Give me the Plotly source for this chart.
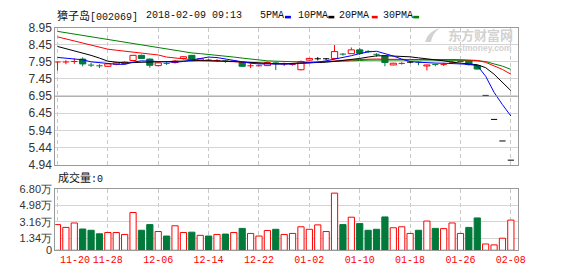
import plotly.graph_objects as go

# ---------------- data ----------------
tick_pos = [0, 6, 12, 18, 24, 30, 36, 42, 48, 54]
tick_labels = ["11-20", "11-28", "12-06", "12-14", "12-22", "01-02", "01-10", "01-18", "01-26", "02-08"]

price_ticks = ["8.95", "8.45", "7.95", "7.45", "6.95", "6.45", "5.94", "5.44", "4.94"]
vol_ticks = [0, 1.34, 3.16, 4.98, 6.80]
vol_tick_text = ["0", "1.34万", "3.16万", "4.98万", "6.80万"]

open_ = [7.94, 7.94, 7.95, 8.03, 7.86, 7.84, 7.82, 7.88, 7.90, 7.99,
         8.14, 8.03, 7.84, 7.91, 7.93, 8.05, 8.14, 8.00, 8.01, 7.98,
         7.99, 7.97, 7.93, 7.83, 7.83, 7.84, 7.93, 7.88, 7.87, 7.72,
         8.00, 8.04, 8.04, 8.05, 8.18, 8.19, 8.30, 8.26, 8.18, 8.12,
         7.86, 7.90, 7.94, 7.95, 7.83, 7.88, 7.86, 7.93, 7.95, 7.98,
         7.84, 6.97, 6.27, 5.64, 5.08]
high = [7.96, 8.00, 8.05, 8.08, 7.92, 7.88, 7.90, 7.95, 7.97, 8.15,
        8.16, 8.05, 7.93, 7.94, 8.00, 8.11, 8.15, 8.06, 8.04, 8.03,
        8.00, 7.99, 7.94, 7.91, 7.86, 7.96, 7.95, 7.93, 7.91, 7.99,
        8.07, 8.09, 8.06, 8.44, 8.21, 8.37, 8.36, 8.29, 8.20, 8.13,
        7.92, 7.94, 7.96, 7.96, 7.87, 7.89, 7.92, 7.98, 7.99, 8.00,
        7.86, 6.97, 6.27, 5.64, 5.08]
low = [7.70, 7.88, 7.89, 7.82, 7.80, 7.77, 7.80, 7.85, 7.88, 7.98,
       8.04, 7.78, 7.82, 7.86, 7.90, 8.02, 7.97, 7.98, 7.97, 7.95,
       7.92, 7.96, 7.80, 7.77, 7.82, 7.83, 7.71, 7.83, 7.84, 7.70,
       7.98, 7.99, 8.00, 8.04, 8.13, 8.18, 8.15, 8.21, 8.10, 7.82,
       7.85, 7.87, 7.91, 7.85, 7.70, 7.82, 7.83, 7.91, 7.94, 7.84,
       7.73, 6.97, 6.27, 5.64, 5.08]
close = [7.95, 7.95, 7.97, 7.89, 7.85, 7.83, 7.89, 7.92, 7.94, 8.14,
         8.05, 7.85, 7.92, 7.90, 7.97, 8.10, 7.99, 8.04, 8.00, 8.00,
         7.97, 7.98, 7.82, 7.84, 7.84, 7.93, 7.91, 7.90, 7.88, 7.96,
         8.05, 8.04, 8.04, 8.25, 8.17, 8.30, 8.20, 8.25, 8.16, 7.93,
         7.91, 7.91, 7.94, 7.93, 7.86, 7.87, 7.88, 7.95, 7.97, 7.87,
         7.74, 6.97, 6.27, 5.64, 5.08]
volume = [2.85, 2.54, 3.03, 2.36, 2.22, 1.83, 1.97, 1.97, 1.76, 4.19,
          2.22, 2.85, 2.08, 1.58, 2.72, 1.97, 2.01, 1.66, 1.58, 1.76,
          1.80, 1.97, 2.43, 1.87, 1.58, 2.19, 2.33, 1.76, 1.87, 2.61,
          2.33, 2.82, 2.08, 6.34, 2.85, 3.67, 2.96, 2.22, 2.33, 3.70,
          2.50, 2.61, 1.87, 2.22, 3.24, 2.43, 2.40, 3.03, 1.87, 2.54,
          3.59, 0.70, 0.60, 1.34, 3.35]

ma5 = [8.08, 8.05, 8.03, 8.01, 7.95, 7.92, 7.89, 7.88, 7.875, 7.94,
       7.98, 7.97, 7.96, 7.95, 7.94, 7.96, 8.01, 8.05, 8.09, 8.075,
       8.03, 7.99, 7.95, 7.91, 7.89, 7.886, 7.88, 7.88, 7.886, 7.91,
       7.92, 7.94, 7.98, 8.025, 8.075, 8.13, 8.19, 8.24, 8.26, 8.20,
       8.12, 8.03, 7.96, 7.94, 7.92, 7.914, 7.91, 7.91, 7.89, 7.875,
       7.84, 7.53, 7.06, 6.70, 6.37]
ma10 = [8.40, 8.34, 8.28, 8.22, 8.14, 8.06, 7.97, 7.94, 7.92, 7.93,
        7.94, 7.94, 7.94, 7.95, 7.96, 7.97, 7.98, 7.986, 7.986, 7.98,
        7.97, 7.96, 7.944, 7.93, 7.917, 7.906, 7.894, 7.894, 7.90, 7.908,
        7.914, 7.928, 7.942, 7.964, 7.986, 8.02, 8.05, 8.09, 8.125, 8.13,
        8.12, 8.11, 8.097, 8.067, 8.044, 8.02, 7.98, 7.942, 7.903, 7.886,
        7.867, 7.78, 7.59, 7.34, 7.11]
ma20 = [8.68, 8.62, 8.56, 8.50, 8.44, 8.38, 8.32, 8.29, 8.26, 8.23,
        8.21, 8.18, 8.15, 8.09, 8.06, 8.025, 8.00, 7.986, 7.986, 7.978,
        7.969, 7.958, 7.944, 7.931, 7.914, 7.90, 7.894, 7.894, 7.90, 7.908,
        7.914, 7.936, 7.958, 7.98, 7.997, 8.006, 8.019, 8.033, 8.033, 8.025,
        8.019, 8.019, 8.019, 8.019, 8.019, 8.025, 8.025, 8.019, 8.014, 8.006,
        7.992, 7.936, 7.839, 7.728, 7.59]
ma30 = [8.84, 8.80, 8.76, 8.72, 8.68, 8.64, 8.60, 8.56, 8.52, 8.48,
        8.44, 8.40, 8.36, 8.33, 8.27, 8.24, 8.21, 8.19, 8.17, 8.14,
        8.12, 8.09, 8.06, 8.03, 8.01, 7.98, 7.97, 7.96, 7.95, 7.95,
        7.94, 7.945, 7.95, 7.96, 7.97, 7.98, 7.99, 8.00, 8.005, 8.005,
        8.005, 8.005, 8.005, 8.005, 8.005, 8.005, 8.005, 8.0, 8.0, 7.99,
        7.98, 7.96, 7.89, 7.825, 7.73]

# ---------------- styles ----------------
RED = "#ff0000"
GREEN = "#00793a"
BLACK = "#000000"
BLUE = "#0000ff"
MA_GREEN = "#008000"
FRAME = "#9a9a9a"
GRID = "#d4d4d4"
VGRID = "#c8c8c8"
W = 0.74
NUM_FONT = "Liberation Sans, Arial, sans-serif"
MONO = "Liberation Mono, Courier New, monospace"
CJK = "Noto Sans CJK SC, sans-serif"

n = len(close)
xs = list(range(n))

wick = {RED: ([], []), GREEN: ([], []), BLACK: ([], [])}
bodies = {RED: ([], [], []), GREEN: ([], [], [])}
for i in range(n):
    o, h, l, c = open_[i], high[i], low[i], close[i]
    d = c - o
    if abs(d) < 0.025:
        col = BLACK if d == 0 else (RED if d > 0 else GREEN)
        m = (o + c) / 2
        wick[col][0].extend([i, i, None, i - W / 2, i + W / 2, None])
        wick[col][1].extend([h, l, None, m, m, None])
    else:
        col = RED if d > 0 else GREEN
        top, bot = max(o, c), min(o, c)
        wick[col][0].extend([i, i, None, i, i, None])
        wick[col][1].extend([h, top, None, bot, l, None])
        bodies[col][0].append(i)
        bodies[col][1].append(bot)
        bodies[col][2].append(top - bot)

fig = go.Figure()

# candle bodies
fig.add_trace(go.Bar(x=bodies[RED][0], base=bodies[RED][1], y=bodies[RED][2], width=W,
                     marker=dict(color="white", line=dict(color=RED, width=1)),
                     xaxis="x", yaxis="y", hoverinfo="skip"))
fig.add_trace(go.Bar(x=bodies[GREEN][0], base=bodies[GREEN][1], y=bodies[GREEN][2], width=W,
                     marker=dict(color=GREEN, line=dict(color=GREEN, width=1)),
                     xaxis="x", yaxis="y", hoverinfo="skip"))
for col, (wx, wy) in wick.items():
    fig.add_trace(go.Scatter(x=wx, y=wy, mode="lines", line=dict(color=col, width=1),
                             xaxis="x", yaxis="y", hoverinfo="skip"))

# moving averages
for arr, col in [(ma30, MA_GREEN), (ma20, RED), (ma10, BLACK), (ma5, BLUE)]:
    fig.add_trace(go.Scatter(x=xs, y=arr, mode="lines", line=dict(color=col, width=1),
                             xaxis="x", yaxis="y", hoverinfo="skip"))

# volume
up_x = [i for i in xs if close[i] >= open_[i]]
dn_x = [i for i in xs if close[i] < open_[i]]
fig.add_trace(go.Bar(x=up_x, y=[volume[i] for i in up_x], width=W,
                     marker=dict(color="white", line=dict(color=RED, width=1)),
                     xaxis="x2", yaxis="y2", hoverinfo="skip"))
fig.add_trace(go.Bar(x=dn_x, y=[volume[i] for i in dn_x], width=W,
                     marker=dict(color=GREEN, line=dict(color=GREEN, width=1)),
                     xaxis="x2", yaxis="y2", hoverinfo="skip"))

XR = [-0.27, 54.82]
XD = [56 / 578, 525 / 578]

common_x = dict(range=XR, domain=XD, tickmode="array", tickvals=tick_pos,
                showgrid=True, gridcolor=VGRID, griddash="4px,3px", gridwidth=1,
                zeroline=False, showline=True, linecolor=FRAME, linewidth=1, mirror=True,
                ticks="", fixedrange=True)

fig.update_layout(
    width=578, height=276,
    margin=dict(l=0, r=0, t=0, b=0),
    paper_bgcolor="white", plot_bgcolor="white",
    showlegend=False, barmode="overlay",
    xaxis=dict(anchor="y", showticklabels=False, **common_x),
    xaxis2=dict(anchor="y2", showticklabels=True,
                ticktext=[""] + tick_labels[1:],
                tickfont=dict(family=MONO, size=10, color=RED), **common_x),
    yaxis=dict(domain=[1 - 166.4 / 276, 1 - 21.7 / 276], range=[4.94, 8.95],
               tickmode="array", tickvals=[float(t) for t in price_ticks], ticktext=price_ticks,
               showgrid=True, gridcolor=GRID, gridwidth=1, zeroline=False,
               showline=True, linecolor=FRAME, mirror=True, ticks="",
               tickfont=dict(family=NUM_FONT, size=12, color="#333333"), fixedrange=True),
    yaxis2=dict(domain=[1 - 256.3 / 276, 1 - 191.7 / 276], range=[0, 6.80],
                tickmode="array", tickvals=vol_ticks, ticktext=vol_tick_text,
                showgrid=True, gridcolor=GRID, gridwidth=1, zeroline=False,
                showline=True, linecolor=FRAME, mirror=True, ticks="",
                tickfont=dict(family=NUM_FONT, size=11, color="#333333"), fixedrange=True),
)

# darker middle line of the price panel
fig.add_shape(type="line", xref="x domain", yref="y", x0=0, x1=1, y0=6.95, y1=6.95,
              line=dict(color=FRAME, width=1))


def px(x):
    return x / 578


def py(y):
    return 1 - y / 276


ann = []
ann.append(dict(text='<span style="font-family:Noto Sans CJK SC;font-size:11px">獐子岛</span>[002069]',
                x=px(57), y=py(8.7), font=dict(family=MONO, size=10, color="#111")))
ann.append(dict(text="2018-02-09 09:13", x=px(147), y=py(8.7),
                font=dict(family=MONO, size=10, color="#111")))
for label, xpos in [("5PMA", 263), ("10PMA", 301), ("20PMA", 343), ("30PMA", 387)]:
    ann.append(dict(text=label, x=px(xpos), y=py(8.7), font=dict(family=MONO, size=10, color="#111")))
ann.append(dict(text='<span style="font-family:Noto Sans CJK SC;font-size:11px">成交量</span>:0',
                x=px(58), y=py(179.5), font=dict(family=MONO, size=10, color="#111")))
ann.append(dict(text=tick_labels[0], x=px(60), y=py(266.7),
                font=dict(family=MONO, size=10, color=RED)))
ann.append(dict(text="<b>东方财富网</b>", x=px(453), y=py(28.5),
                font=dict(family=CJK, size=13, color="#d2d2d2")))
ann.append(dict(text="<b>eastmoney.com</b>", x=px(453), y=py(43.5),
                font=dict(family=NUM_FONT, size=8.5, color="#d2d2d2")))
for a in ann:
    a.update(xref="paper", yref="paper", xanchor="left", yanchor="middle",
             showarrow=False, borderpad=0)
fig.update_layout(annotations=ann)

# legend colour marks
for xpos, col in [(289, BLUE), (333, BLACK), (377, RED), (419, MA_GREEN)]:
    fig.add_shape(type="rect", xref="paper", yref="paper",
                  x0=px(xpos), x1=px(xpos + 6), y0=py(12), y1=py(9.3),
                  line=dict(width=0), fillcolor=col)

# watermark logo (approximate swoosh)
fig.add_shape(type="path", xref="paper", yref="paper", layer="below",
              path=f"M {px(431)},{py(37)} Q {px(433)},{py(26)} {px(446)},{py(22)} "
                   f"Q {px(438)},{py(28)} {px(437)},{py(37)} Z",
              fillcolor="#d2d2d2", line=dict(width=0))

fig.write_html("out.html")
